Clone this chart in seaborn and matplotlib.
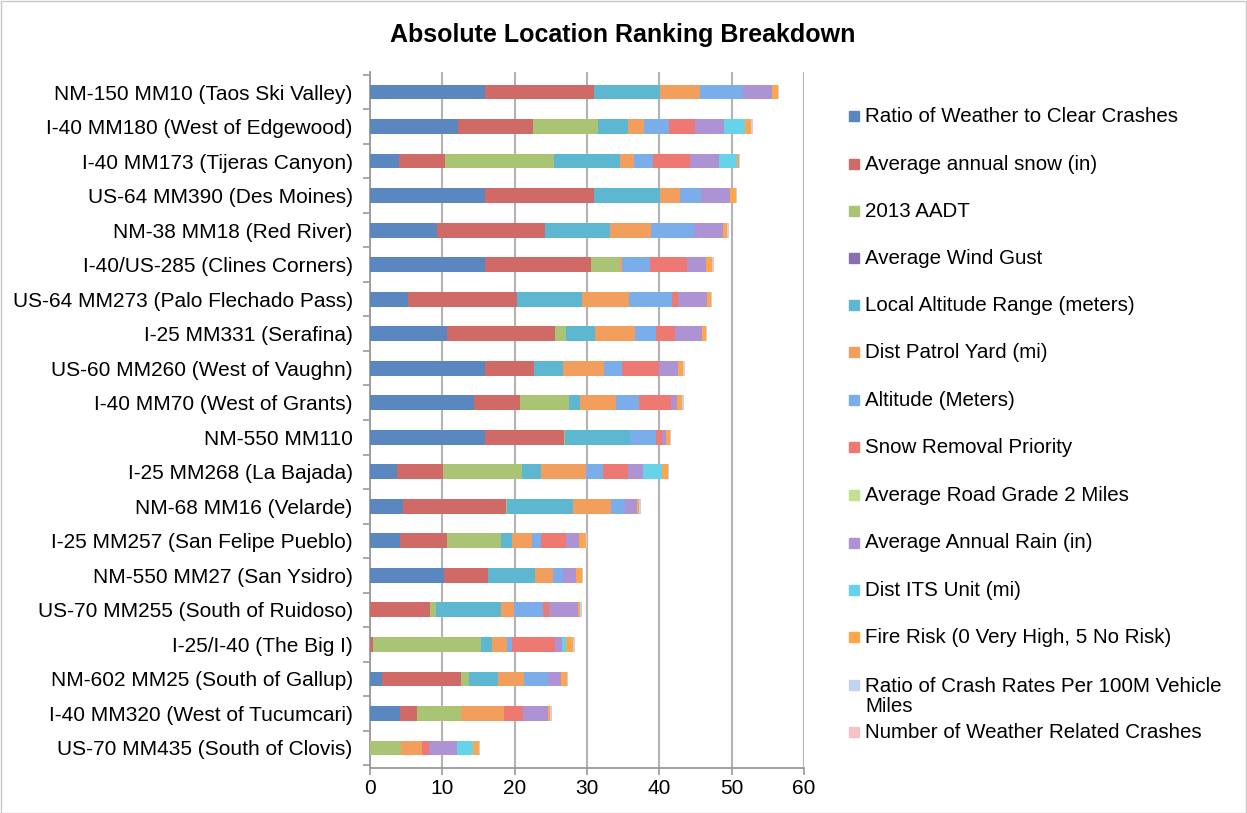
import matplotlib
matplotlib.use("Agg")
import matplotlib.pyplot as plt
from matplotlib.patches import Rectangle
from matplotlib.ticker import MultipleLocator
import numpy as np
import seaborn as sns

sns.set_theme(style="white")
plt.rcParams["font.family"] = ["Liberation Sans", "DejaVu Sans"]
plt.rcParams["text.color"] = "black"

# Locations, top to bottom
locations = [
    "NM-150 MM10 (Taos Ski Valley)", "I-40 MM180 (West of Edgewood)", "I-40 MM173 (Tijeras Canyon)",
    "US-64 MM390 (Des Moines)", "NM-38 MM18 (Red River)", "I-40/US-285 (Clines Corners)",
    "US-64 MM273 (Palo Flechado Pass)", "I-25 MM331 (Serafina)", "US-60 MM260 (West of Vaughn)",
    "I-40 MM70 (West of Grants)", "NM-550 MM110", "I-25 MM268 (La Bajada)", "NM-68 MM16 (Velarde)",
    "I-25 MM257 (San Felipe Pueblo)", "NM-550 MM27 (San Ysidro)", "US-70 MM255 (South of Ruidoso)",
    "I-25/I-40 (The Big I)", "NM-602 MM25 (South of Gallup)", "I-40 MM320 (West of Tucumcari)",
    "US-70 MM435 (South of Clovis)",
]

# Series values, in stack order
ratio_weather = [15.9, 12.2, 4.0, 15.9, 9.2, 15.9, 5.3, 10.6, 15.9, 14.4, 15.9, 3.7, 4.5, 4.2, 10.2, 0, 0, 1.7, 4.1, 0]
annual_snow = [15.1, 10.4, 6.4, 15.1, 15.0, 14.6, 15.0, 15.0, 6.8, 6.3, 10.9, 6.4, 14.3, 6.4, 6.1, 8.3, 0.4, 10.9, 2.4, 0]
aadt_2013 = [0, 8.9, 15.1, 0, 0, 4.1, 0, 1.5, 0, 6.8, 0.2, 10.9, 0.15, 7.5, 0, 0.8, 15.0, 1.15, 6.1, 4.3]
wind_gust = [0] * 20
alt_range = [9.1, 4.1, 9.0, 9.1, 9.0, 0, 9.0, 4.0, 4.0, 1.6, 9.0, 2.6, 9.1, 1.5, 6.5, 9.0, 1.5, 4.0, 0, 0]
patrol_yard = [5.5, 2.3, 2.0, 2.8, 5.7, 0.3, 6.5, 5.6, 5.7, 4.9, 0, 6.3, 5.3, 2.8, 2.5, 1.8, 2.1, 3.5, 5.9, 2.9]
altitude = [6.0, 3.5, 2.6, 2.9, 5.9, 3.8, 6.0, 2.9, 2.4, 3.2, 3.5, 2.3, 1.9, 1.3, 1.4, 4.0, 0.7, 3.4, 0, 0]
snow_removal = [0, 3.5, 5.1, 0, 0, 5.1, 0.8, 2.6, 5.1, 4.4, 0.8, 3.5, 0, 3.4, 0, 0.8, 5.9, 0, 2.6, 0.9]
road_grade = [0] * 20
annual_rain = [4.0, 4.0, 4.0, 4.0, 4.0, 2.7, 4.0, 3.7, 2.7, 0.8, 0.6, 2.0, 1.7, 1.8, 1.8, 4.0, 0.9, 1.75, 3.5, 3.9]
its_unit = [0, 3.0, 2.5, 0, 0, 0, 0, 0, 0, 0, 0, 2.7, 0, 0, 0, 0, 0.6, 0, 0, 2.2]
fire_risk = [0.8, 0.8, 0.25, 0.8, 0.6, 0.8, 0.5, 0.55, 0.7, 0.8, 0.55, 0.8, 0.3, 0.9, 0.8, 0.4, 1.0, 0.8, 0.3, 0.8]
crash_rates = [0.15] * 20
weather_crashes = [0.05] * 20

series = [ratio_weather, annual_snow, aadt_2013, wind_gust, alt_range, patrol_yard, altitude,
          snow_removal, road_grade, annual_rain, its_unit, fire_risk, crash_rates, weather_crashes]
series_names = [
    "Ratio of Weather to Clear Crashes", "Average annual snow (in)", "2013 AADT", "Average Wind Gust",
    "Local Altitude Range (meters)", "Dist Patrol Yard (mi)", "Altitude (Meters)", "Snow Removal Priority",
    "Average Road Grade 2 Miles", "Average Annual Rain (in)", "Dist ITS Unit (mi)",
    "Fire Risk (0 Very High, 5 No Risk)", "Ratio of Crash Rates Per 100M Vehicle\nMiles",
    "Number of Weather Related Crashes",
]
colors = ["#5B87C0", "#CF6A66", "#A9C474", "#8A6FB0", "#5DB7D0", "#F29E5C", "#7CADEB",
          "#EE7872", "#C4DF8F", "#AD93D4", "#66D3EA", "#FFA54A", "#C2D3F0", "#F3C3C8"]

W, H = 1247, 813
fig = plt.figure(figsize=(W / 100, H / 100), dpi=100)
ax = fig.add_axes([370 / W, 1 - 768 / H, 434 / W, 696 / H])

# stacked bars: draw cumulative totals from the last series to the first
cum = np.cumsum(np.array(series), axis=0)
for i in range(len(series) - 1, -1, -1):
    sns.barplot(x=cum[i], y=locations, color=colors[i], saturation=1, width=0.43,
                orient="h", ax=ax, zorder=3, linewidth=0)

ax.set_xlim(0, 60)
ax.set_ylim(19.58, -0.58)
ax.xaxis.set_major_locator(MultipleLocator(10))
ax.set_xlabel("")
ax.set_ylabel("")
ax.grid(axis="x", color="#B4B4B4", linewidth=1.5, zorder=0)
ax.set_axisbelow(True)
for s in ["top", "right"]:
    ax.spines[s].set_visible(False)
for s in ["left", "bottom"]:
    ax.spines[s].set_color("#9A9A9A")
    ax.spines[s].set_linewidth(1.3)
ax.set_yticks(np.arange(-0.5, 20, 1), minor=True)
ax.tick_params(axis="y", which="major", length=0, labelsize=15, pad=12.5, labelcolor="black")
ax.tick_params(axis="y", which="minor", left=True, length=5, width=1.2, color="#9A9A9A")
ax.tick_params(axis="x", bottom=True, length=5, width=1.2, color="#9A9A9A", labelsize=15, pad=3,
               labelcolor="black")

fig.text(623 / W, 1 - 35 / H, "Absolute Location Ranking Breakdown", ha="center", va="center",
         fontsize=18, fontweight="bold", color="black")

# legend laid out like the original
legend_y = [116, 164, 211, 258, 305, 352, 400, 447, 495, 543, 590, 637, 696.5, 732]
for name, c, y in zip(series_names, colors, legend_y):
    box_y = y if "\n" not in name else 685
    fig.add_artist(Rectangle((849 / W, 1 - (box_y + 5) / H), 10 / W, 10 / H,
                             transform=fig.transFigure, color=c))
    fig.text(865 / W, 1 - y / H, name, ha="left", va="center", fontsize=14.8, linespacing=1.1,
             color="black")

fig.add_artist(Rectangle((0.5 / W, 0.5 / H), (W - 2) / W, (H - 2) / H, transform=fig.transFigure,
                         fill=False, edgecolor="#C8C8C8", linewidth=1))

fig.savefig("out.png", dpi=100)
